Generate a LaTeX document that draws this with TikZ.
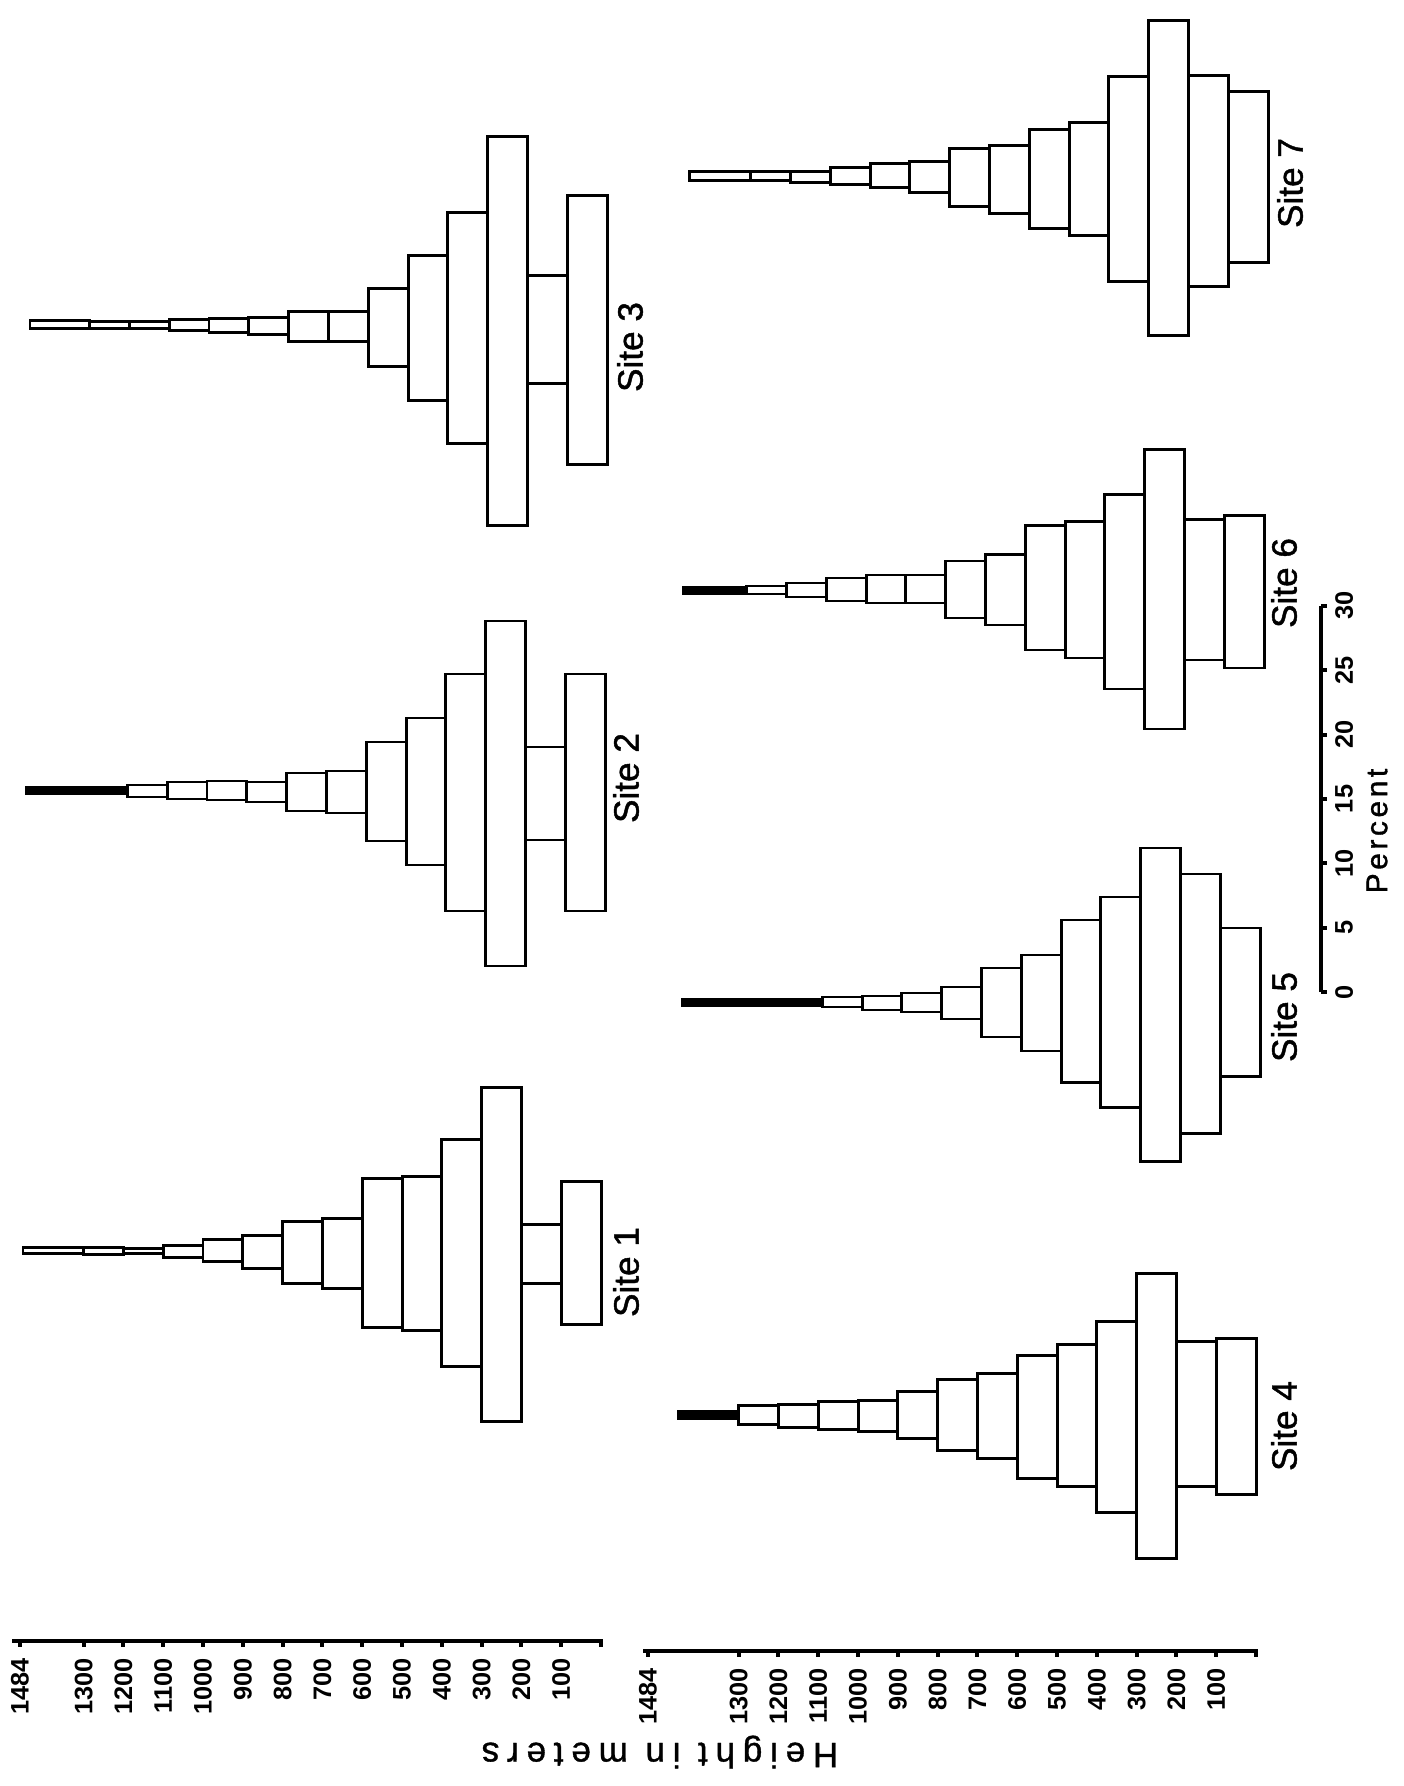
\documentclass[tikz,border=0pt]{standalone}
\usepackage{fontspec}
\setmainfont{Liberation Sans}
\newfontfamily\labelfont[FakeBold=1.2]{Liberation Sans}
\newfontfamily\spacedfont[LetterSpace=22,FakeBold=1]{Liberation Sans}
\newfontfamily\pctfont[LetterSpace=12,FakeBold=1.2]{Liberation Sans}

\begin{document}
\begin{tikzpicture}[x=0.01cm, y=-0.01cm,
  bar/.style={draw, line width=0.85pt},
  apex/.style={draw, fill=black, line width=0.85pt},
  axisline/.style={line width=1.1pt},
  num/.style={font=\bfseries\fontsize{7.2}{8}\selectfont, inner sep=1pt, rotate=90},
  sitelabel/.style={font=\labelfont\fontsize{10}{12}\selectfont, rotate=90},
  axistitle/.style={font=\spacedfont\fontsize{10}{12}\selectfont}]
\useasboundingbox (0,0) rectangle (1404,1786);

% site 1
\draw[bar] (23,1247) rectangle (83.6,1253);
\foreach \xa/\xb/\ya/\yb in {83.6/123.4/1247/1254, 123.4/163.2/1248/1253, 163.2/203/1245/1257,
  203/242.8/1239/1261, 242.8/282.6/1235/1268, 282.6/322.4/1221/1283, 322.4/362.2/1218/1288,
  362.2/402/1178/1327, 402/441.8/1176/1330, 441.8/481.6/1139/1366, 481.6/521.4/1087/1421,
  521.4/561.2/1224/1283, 561.2/601/1181/1324}
  \draw[bar] (\xa,\ya) rectangle (\xb,\yb);
\node[sitelabel] (s1) at (626,1272) {Site 1};

% site 2
\draw[apex] (26,787) rectangle (127.4,794);
\foreach \xa/\xb/\ya/\yb in {127.4/167.2/785/797, 167.2/207/782/799, 207/246.8/781/800,
  246.8/286.6/782/802, 286.6/326.4/773/811, 326.4/366.2/771/813, 366.2/406/742/841,
  406/445.8/718/865, 445.8/485.6/674/911, 485.6/525.4/621/966, 525.4/565/747/840,
  565/605/674/911}
  \draw[bar] (\xa,\ya) rectangle (\xb,\yb);
\node[sitelabel] (s2) at (626,778) {Site 2};

% site 3
\draw[bar] (30,321) rectangle (89.6,329);
\foreach \xa/\xb/\ya/\yb in {89.6/129.4/322/329, 129.4/169.2/322/329, 169.2/209/320/331,
  209/248.8/319/333, 248.8/288.6/318/335, 288.6/328.4/312/342, 328.4/368.2/312/342,
  368.2/408/289/367, 408/447.8/256/401, 447.8/487.6/213/444, 487.6/527.4/137/526,
  527.4/567.2/276/384, 567.2/607/196/465}
  \draw[bar] (\xa,\ya) rectangle (\xb,\yb);
\node[sitelabel] (s3) at (630,347) {Site 3};

% site 4
\draw[apex] (678,1411) rectangle (738.6,1418);
\foreach \xa/\xb/\ya/\yb in {738.6/778.4/1405/1424, 778.4/818.2/1404/1427, 818.2/858/1401/1429,
  858/897.8/1400/1431, 897.8/937.6/1391/1438, 937.6/977.4/1379/1450, 977.4/1017.2/1373/1458,
  1017.2/1057/1355/1478, 1057/1096.8/1344/1486, 1096.8/1136.6/1321/1512,
  1136.6/1176.4/1273/1558, 1176.4/1216.2/1341/1486, 1216.2/1256/1338/1494}
  \draw[bar] (\xa,\ya) rectangle (\xb,\yb);
\node[sitelabel] (s4) at (1284,1426) {Site 4};

% site 5
\draw[apex] (682,999) rectangle (822.2,1006);
\foreach \xa/\xb/\ya/\yb in {822.2/862/997/1007, 862/901.8/996/1010, 901.8/941.6/993/1012,
  941.6/981.4/987/1019, 981.4/1021.2/968/1037, 1021.2/1061/955/1051, 1061/1100.8/920/1082,
  1100.8/1140.6/897/1107, 1140.6/1180.4/848/1161, 1180.4/1220.2/874/1133, 1220.2/1260/928/1076}
  \draw[bar] (\xa,\ya) rectangle (\xb,\yb);
\node[sitelabel] (s5) at (1284,1017) {Site 5};

% site 6
\draw[apex] (683,587) rectangle (746.6,594);
\foreach \xa/\xb/\ya/\yb in {746.6/786.4/586/594, 786.4/826.2/583/597, 826.2/866/578/601,
  866/905.8/575/603, 905.8/945.6/575/603, 945.6/985.4/561/618, 985.4/1025.2/555/625,
  1025.2/1065/526/650, 1065/1104.8/522/658, 1104.8/1144.6/495/689, 1144.6/1184.4/450/729,
  1184.4/1224.2/520/660, 1224.2/1264/516/668}
  \draw[bar] (\xa,\ya) rectangle (\xb,\yb);
\node[sitelabel] (s6) at (1284,583) {Site 6};

% site 7
\draw[bar] (689,172) rectangle (750.6,181);
\foreach \xa/\xb/\ya/\yb in {750.6/790.4/172/181, 790.4/830.2/172/183, 830.2/870/168/185,
  870/909.8/164/188, 909.8/949.6/162/193, 949.6/989.4/149/207, 989.4/1029.2/146/214,
  1029.2/1069/130/229, 1069/1108.8/123/236, 1108.8/1148.6/77/282, 1148.6/1188.4/21/336,
  1188.4/1228.2/76/287, 1228.2/1268/92/263}
  \draw[bar] (\xa,\ya) rectangle (\xb,\yb);
\node[sitelabel] (s7) at (1290,183) {Site 7};

% height axes
\draw[axisline] (12,1641) -- (601,1641) -- (601,1647);
\draw[axisline] (20,1641) -- (20,1647);
\node[num, anchor=east] (ht) at (20,1654) {1484};
\foreach \k [evaluate=\k as \xx using 601-39.8*\k] in {1,...,13} {
  \draw[axisline] (\xx,1641) -- (\xx,1647);
  \node[num, anchor=east] (h\k) at (\xx,1654) {\k00};
}
\draw[axisline] (643,1651) -- (1256,1651) -- (1256,1657);
\draw[axisline] (648,1651) -- (648,1657);
\node[num, anchor=east] (hb) at (648,1664) {1484};
\foreach \k [evaluate=\k as \xx using 1256-39.8*\k] in {1,...,13} {
  \draw[axisline] (\xx,1651) -- (\xx,1657);
  \node[num, anchor=east] (g\k) at (\xx,1664) {\k00};
}
\node[axistitle, rotate=180] (hm) at (660,1752) {Height in meters};

% percent axis
\draw[axisline] (1321,992) -- (1321,606);
\foreach \p [evaluate=\p as \yy using 992-12.87*\p] in {0,5,...,30} {
  \draw[axisline] (1321,\yy) -- (1327,\yy);
  \node[num, anchor=north] (p\p) at (1331,\yy) {\p};
}
\node[rotate=90, font=\pctfont\fontsize{8.5}{10}\selectfont] (pc) at (1377,831) {Percent};
\end{tikzpicture}
\end{document}
